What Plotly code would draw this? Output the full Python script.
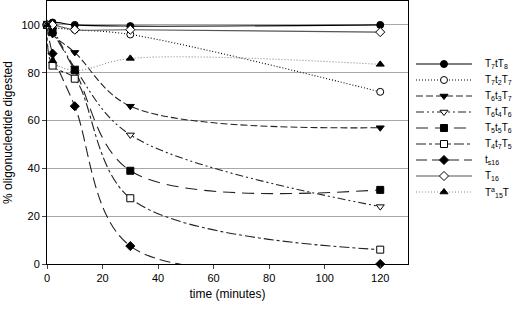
import plotly.graph_objects as go

time = [0, 2, 10, 30, 120]

names = ["T<sub>7</sub>tT<sub>8</sub>", "T<sub>7</sub>t<sub>2</sub>T<sub>7</sub>",
         "T<sub>6</sub>t<sub>3</sub>T<sub>7</sub>", "T<sub>6</sub>t<sub>4</sub>T<sub>6</sub>",
         "T<sub>5</sub>t<sub>5</sub>T<sub>6</sub>", "T<sub>4</sub>t<sub>7</sub>T<sub>5</sub>",
         "t<sub>s16</sub>", "T<sub>16</sub>", "T<sup>a</sup><sub>15</sub>T"]

T7tT8 = [100, 101, 100, 99.5, 100]
T7t2T7 = [100, 99, 98, 96, 72]
T6t3T7 = [100, 96, 88.5, 66, 57]
T6t4T6 = [100, 98, 82, 54, 24]
T5t5T6 = [100, 97, 81, 39, 31]
T4t7T5 = [100, 83, 77.5, 27.5, 6]
ts16 = [100, 88, 66, 7.5, 0]
T16 = [100, 100, 98, 98, 97]
Ta15T = [100, 85, 81, 86, 83.5]

series = [T7tT8, T7t2T7, T6t3T7, T6t4T6, T5t5T6, T4t7T5, ts16, T16, Ta15T]

styles = [
    dict(dash="solid", color="black", symbol="circle", fill="black"),
    dict(dash="1px,2px", color="black", symbol="circle", fill="white"),
    dict(dash="7px,3px", color="#222", symbol="triangle-down", fill="black"),
    dict(dash="8px,3px,2px,3px,2px,3px", color="#222", symbol="triangle-down", fill="white"),
    dict(dash="12px,7px", color="#222", symbol="square", fill="black"),
    dict(dash="10px,3px,3px,3px", color="#222", symbol="square", fill="white"),
    dict(dash="11px,5px", color="#222", symbol="diamond", fill="black"),
    dict(dash="solid", color="#555", symbol="diamond", fill="white"),
    dict(dash="1px,2px", color="#888", symbol="triangle-up", fill="black"),
]

fig = go.Figure()
for name, vals, st in zip(names, series, styles):
    fig.add_trace(go.Scatter(
        x=time, y=vals, name=name, mode="lines+markers", showlegend=False,
        line=dict(shape="spline", smoothing=1.0, dash=st["dash"], color=st["color"], width=1.1),
        marker=dict(symbol=st["symbol"], size=7, color=st["fill"],
                    line=dict(color="black", width=1)),
        cliponaxis=False,
    ))

# legend drawn on a hidden side axis
for i, (name, st) in enumerate(zip(names, styles)):
    fig.add_trace(go.Scatter(
        x=[0, 0.5, 1], y=[i, i, i], mode="lines+markers", showlegend=False,
        xaxis="x2", yaxis="y2", hoverinfo="skip",
        line=dict(dash=st["dash"], color=st["color"], width=1.1),
        marker=dict(symbol=st["symbol"], size=7, color=st["fill"], opacity=[0, 1, 0],
                    line=dict(color="black", width=1)),
        cliponaxis=False,
    ))
    fig.add_annotation(x=1.19, y=i, xref="x2", yref="y2", text=name, showarrow=False,
                       xanchor="left", yanchor="middle", font=dict(size=10))

plot_w = 514 - 47
main_end = (408 - 47) / plot_w

fig.update_layout(
    width=514, height=309,
    margin=dict(l=47, r=0, t=1, b=45, autoexpand=False),
    paper_bgcolor="white", plot_bgcolor="white",
    font=dict(family="Liberation Sans, Arial, sans-serif", size=11, color="black"),
    showlegend=False,
    xaxis=dict(domain=[0, main_end], range=[0, 130], tickvals=[0, 20, 40, 60, 80, 100, 120],
               ticks="outside", ticklen=4, showgrid=False, zeroline=False,
               automargin=False,
               showline=True, linecolor="black", linewidth=1, mirror=True,
               title=dict(text="time (minutes)", font=dict(size=12), standoff=6)),
    yaxis=dict(range=[0, 110], tickvals=[0, 20, 40, 60, 80, 100],
               ticks="outside", ticklen=4, showgrid=True, gridcolor="#a8a8a8",
               gridwidth=1, zeroline=False, automargin=False,
               showline=True, linecolor="black", linewidth=1, mirror=True,
               title=dict(text="% oligonucleotide digested", font=dict(size=12), standoff=6)),
    xaxis2=dict(domain=[main_end + 0.007, 1], range=[-0.084, 1.75], visible=False,
                fixedrange=True),
    yaxis2=dict(anchor="x2", domain=[0, 1], range=[12.5, -3.94], visible=False,
                fixedrange=True),
)

fig.write_html("out.html", config={"displayModeBar": False},
               post_script="document.body.style.margin='0px';")
